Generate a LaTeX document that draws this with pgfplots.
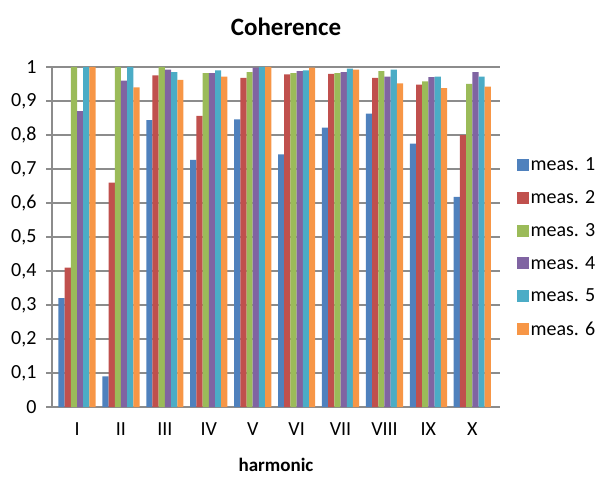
\documentclass[border=0pt]{standalone}
\usepackage{pgfplots}
\pgfplotsset{compat=1.18}
\usepackage{fontspec}
\setmainfont{Carlito}
\definecolor{c1}{HTML}{4F81BD}
\definecolor{c2}{HTML}{C0504D}
\definecolor{c3}{HTML}{9BBB59}
\definecolor{c4}{HTML}{8064A2}
\definecolor{c5}{HTML}{4BACC6}
\definecolor{c6}{HTML}{F79646}
\definecolor{gridgray}{HTML}{8C8C8C}
\begin{document}
\begin{tikzpicture}
\begin{axis}[
  name=ax,
  scale only axis,
  width=448pt, height=340pt,
  ybar=0pt,
  bar width=6.2pt,
  xmin=-0.57, xmax=9.63,
  ymin=0, ymax=1,
  xtick={0,...,9},
  xticklabels={I,II,III,IV,V,VI,VII,VIII,IX,X},
  ytick={0,0.1,...,1.01},
  ymajorgrids,
  major grid style={gridgray, line width=1.2pt},
  axis line style={gridgray, line width=1.2pt},
  axis x line*=bottom, axis y line*=left,
  major tick length=6pt,
  xtick style={draw=none},
  ytick style={gridgray, line width=1.2pt},
  tick align=outside,
  /pgf/number format/.cd, use comma, fixed, assume math mode=true,
  /pgfplots/.cd,
  tick label style={font=\fontsize{20}{22}\selectfont},
  yticklabel style={xshift=-6pt},
  xticklabel style={yshift=-6pt},
  xlabel={\textbf{harmonic}},
  xlabel style={font=\fontsize{19}{21}\selectfont, yshift=-16pt},
  legend style={draw=none, fill=none, at={(1.03,0.47)}, anchor=west,
    font=\fontsize{20}{22}\selectfont, row sep=14.5pt, cells={anchor=west},
    /tikz/every even column/.append style={column sep=2pt}},
  legend image code/.code={\fill[#1] (0pt,-6pt) rectangle (12pt,6pt);},
  every axis plot/.append style={draw=none},
]
\addplot[fill=c1] coordinates {(0,0.32) (1,0.09) (2,0.844) (3,0.727) (4,0.846) (5,0.743) (6,0.822) (7,0.863) (8,0.775) (9,0.618)};
\addplot[fill=c2] coordinates {(0,0.41) (1,0.66) (2,0.975) (3,0.856) (4,0.968) (5,0.978) (6,0.98) (7,0.968) (8,0.948) (9,0.80)};
\addplot[fill=c3] coordinates {(0,1.0) (1,1.0) (2,1.0) (3,0.982) (4,0.985) (5,0.982) (6,0.982) (7,0.988) (8,0.958) (9,0.95)};
\addplot[fill=c4] coordinates {(0,0.87) (1,0.96) (2,0.992) (3,0.982) (4,0.998) (5,0.988) (6,0.985) (7,0.972) (8,0.97) (9,0.985)};
\addplot[fill=c5] coordinates {(0,1.0) (1,1.0) (2,0.985) (3,0.99) (4,1.0) (5,0.99) (6,0.995) (7,0.992) (8,0.972) (9,0.972)};
\addplot[fill=c6] coordinates {(0,1.0) (1,0.94) (2,0.962) (3,0.972) (4,1.0) (5,0.998) (6,0.992) (7,0.952) (8,0.938) (9,0.942)};
\legend{meas. 1,meas. 2,meas. 3,meas. 4,meas. 5,meas. 6}
\end{axis}
\node[font=\fontsize{25}{28}\selectfont\bfseries] at ([shift={(234pt,380pt)}]ax.south west) {Coherence};
\pgfresetboundingbox
\path[use as bounding box] ([shift={(-52pt,-70pt)}]ax.south west) rectangle ++(601pt,477pt);
\end{tikzpicture}
\end{document}
